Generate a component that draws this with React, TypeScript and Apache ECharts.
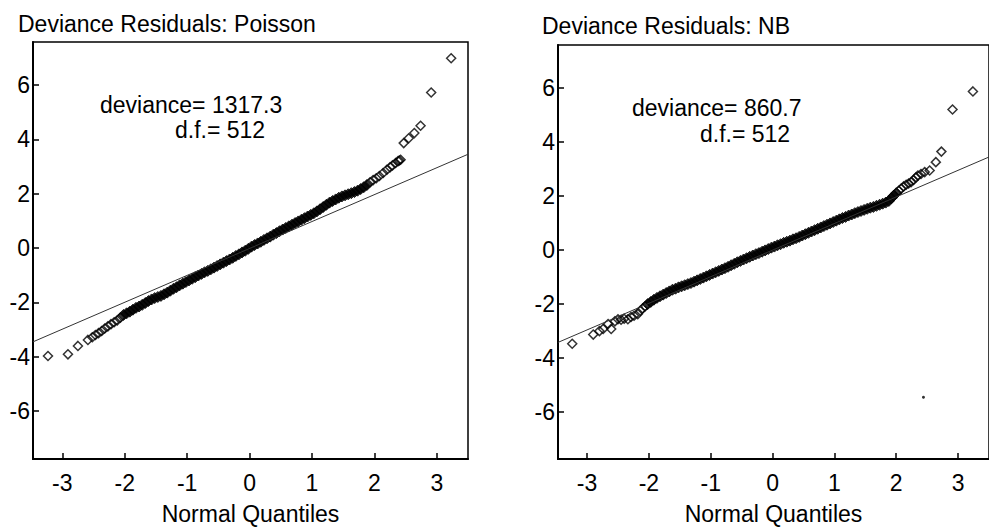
import React, { useEffect, useRef } from "react";
import * as echarts from "echarts";

const xTicks = [-3, -2, -1, 0, 1, 2, 3];
const yTicks = [-6, -4, -2, 0, 2, 4, 6];

const poissonTitle = "Deviance Residuals: Poisson";
const nbTitle = "Deviance Residuals: NB";
const poissonNotes = ["deviance= 1317.3", "d.f.= 512"];
const nbNotes = ["deviance= 860.7", "d.f.= 512"];
const xName = "Normal Quantiles";

// Poisson panel: normal quantiles (x) and deviance residuals (y)
const poissonQ = [
  -3.23, -2.91, -2.75, -2.59, -2.52, -2.47, -2.42, -2.37, -2.32, -2.27, -2.22, -2.17, -2.12, -2.07,
  -2.02, -1.97, -1.92, -1.87, -1.82, -1.77, -1.72, -1.67, -1.62, -1.57, -1.52, -1.47, -1.42, -1.37,
  -1.32, -1.27, -1.22, -1.17, -1.12, -1.07, -1.02, -0.97, -0.92, -0.87, -0.82, -0.77, -0.72, -0.67,
  -0.62, -0.57, -0.52, -0.47, -0.42, -0.37, -0.32, -0.27, -0.22, -0.17, -0.12, -0.07, -0.02, 0.03,
  0.08, 0.13, 0.18, 0.23, 0.28, 0.33, 0.38, 0.43, 0.48, 0.53, 0.58, 0.63, 0.68, 0.73, 0.78, 0.83,
  0.88, 0.93, 0.98, 1.03, 1.08, 1.13, 1.18, 1.23, 1.28, 1.33, 1.38, 1.43, 1.48, 1.53, 1.58, 1.63,
  1.68, 1.73, 1.78, 1.83, 1.88, 1.93, 1.98, 2.03, 2.08, 2.14, 2.2, 2.25, 2.29, 2.34, 2.38, 2.4,
  2.42, 2.47, 2.55, 2.64, 2.74, 2.91, 3.23,
];
const poissonR = [
  -3.97, -3.91, -3.6, -3.38, -3.28, -3.2, -3.13, -3.05, -2.96, -2.88, -2.8, -2.73, -2.66, -2.56,
  -2.46, -2.4, -2.34, -2.27, -2.2, -2.15, -2.09, -2.02, -1.95, -1.89, -1.84, -1.8, -1.76, -1.7,
  -1.64, -1.57, -1.5, -1.44, -1.37, -1.31, -1.25, -1.19, -1.13, -1.07, -1.01, -0.95, -0.89, -0.84,
  -0.78, -0.72, -0.66, -0.6, -0.54, -0.48, -0.42, -0.36, -0.29, -0.23, -0.16, -0.1, -0.03, 0.05,
  0.11, 0.17, 0.23, 0.3, 0.36, 0.42, 0.49, 0.55, 0.62, 0.68, 0.74, 0.8, 0.86, 0.92, 0.98, 1.04,
  1.1, 1.16, 1.22, 1.28, 1.35, 1.43, 1.51, 1.59, 1.67, 1.73, 1.79, 1.85, 1.9, 1.94, 1.98, 2.02,
  2.06, 2.11, 2.17, 2.24, 2.32, 2.42, 2.5, 2.57, 2.65, 2.76, 2.88, 2.97, 3.04, 3.13, 3.2, 3.22,
  3.25, 3.86, 4.04, 4.23, 4.5, 5.72, 6.98,
];

// NB panel
const nbQ = [
  -3.24, -2.9, -2.8, -2.74, -2.66, -2.61, -2.55, -2.5, -2.45, -2.4, -2.34, -2.29, -2.24, -2.18,
  -2.14, -2.1, -2.06, -2.02, -1.97, -1.92, -1.87, -1.82, -1.77, -1.72, -1.67, -1.62, -1.57, -1.52,
  -1.47, -1.42, -1.37, -1.32, -1.27, -1.22, -1.17, -1.12, -1.07, -1.02, -0.97, -0.92, -0.87, -0.82,
  -0.77, -0.72, -0.67, -0.62, -0.57, -0.52, -0.47, -0.42, -0.37, -0.32, -0.27, -0.22, -0.17, -0.12,
  -0.07, -0.02, 0.03, 0.08, 0.13, 0.18, 0.23, 0.28, 0.33, 0.38, 0.43, 0.48, 0.53, 0.58, 0.63, 0.68,
  0.73, 0.78, 0.83, 0.88, 0.93, 0.98, 1.03, 1.08, 1.13, 1.18, 1.23, 1.28, 1.33, 1.38, 1.43, 1.48,
  1.53, 1.58, 1.63, 1.68, 1.73, 1.78, 1.83, 1.88, 1.92, 1.96, 2.0, 2.04, 2.08, 2.12, 2.16, 2.2,
  2.24, 2.28, 2.32, 2.35, 2.4, 2.46, 2.54, 2.64, 2.73, 2.91, 3.24,
];
const nbR = [
  -3.49, -3.15, -3.02, -2.94, -2.76, -2.94, -2.66, -2.58, -2.6, -2.56, -2.58, -2.5, -2.45, -2.39,
  -2.27, -2.18, -2.1, -2.02, -1.94, -1.86, -1.79, -1.73, -1.67, -1.61, -1.55, -1.49, -1.45, -1.4,
  -1.36, -1.32, -1.28, -1.24, -1.19, -1.14, -1.09, -1.04, -0.99, -0.94, -0.89, -0.84, -0.79, -0.74,
  -0.69, -0.64, -0.58, -0.53, -0.47, -0.42, -0.37, -0.32, -0.27, -0.22, -0.17, -0.13, -0.08, -0.03,
  0.02, 0.07, 0.11, 0.16, 0.2, 0.25, 0.29, 0.33, 0.38, 0.42, 0.47, 0.52, 0.57, 0.62, 0.67, 0.72,
  0.77, 0.82, 0.87, 0.92, 0.97, 1.02, 1.07, 1.12, 1.17, 1.21, 1.26, 1.3, 1.35, 1.39, 1.43, 1.47,
  1.51, 1.55, 1.58, 1.62, 1.66, 1.7, 1.74, 1.8, 1.9, 2.0, 2.09, 2.18, 2.26, 2.34, 2.4, 2.45,
  2.5, 2.58, 2.68, 2.74, 2.8, 2.87, 2.93, 3.24, 3.63, 5.19, 5.86,
];
const nbSpeck = [[2.44, -5.47]];

// Reference lines (end points)
const refX = [-3.47, 3.5];
const poissonRefY = [-3.45, 3.45];
const nbRefY = [-3.44, 3.43];

// Range of quantiles where the markers merge into a solid band
const poissonSolid = [-2.05, 1.9];
const nbSolid = [-2.05, 2.0];

const FONT = "'Liberation Sans', Arial, Helvetica, sans-serif";
const FS = 23;

const points = (q: number[], r: number[], solid: number[]) =>
  q.map((v, i) => {
    const inCore = v >= solid[0] && v <= solid[1];
    return inCore
      ? { value: [v, r[i]], symbolSize: 11, itemStyle: { color: "#000", borderColor: "#000", borderWidth: 1 } }
      : { value: [v, r[i]] };
  });

function makeX(gridIndex: number) {
  return {
    type: "value",
    gridIndex,
    min: -3.47,
    max: 3.5,
    axisLine: { show: true, onZero: false, lineStyle: { color: "#000", width: 2 } },
    axisTick: { show: true, inside: true, length: 6, customValues: xTicks, lineStyle: { color: "#000", width: 1.5 } },
    axisLabel: { customValues: xTicks, color: "#000", fontSize: FS, fontFamily: FONT, margin: 12 },
    splitLine: { show: false },
    name: xName,
    nameLocation: "middle",
    nameGap: 43,
    nameTextStyle: { color: "#000", fontSize: FS, fontFamily: FONT },
  };
}

function makeY(gridIndex: number) {
  return {
    type: "value",
    gridIndex,
    min: -7.76,
    max: 7.58,
    axisLine: { show: true, onZero: false, lineStyle: { color: "#000", width: 2 } },
    axisTick: { show: true, inside: true, length: 6, customValues: yTicks, lineStyle: { color: "#000", width: 1.5 } },
    axisLabel: { customValues: yTicks, color: "#000", fontSize: FS, fontFamily: FONT, margin: 3 },
    splitLine: { show: false },
  };
}

const scatterStyle = {
  type: "scatter",
  symbol: "diamond",
  symbolSize: 9,
  itemStyle: { color: "rgba(0,0,0,0)", borderColor: "#000", borderWidth: 1.5 },
  silent: true,
};

const textStyle = (text: string, x: number, y: number) => ({
  type: "text",
  x,
  y,
  style: { text, fill: "#000", font: `${FS}px ${FONT}`, textVerticalAlign: "middle" },
});

export default function App() {
  const ref = useRef<HTMLDivElement>(null);
  useEffect(() => {
    const chart = echarts.init(ref.current!, null, { renderer: "svg" });
    chart.setOption({
      animation: false,
      backgroundColor: "#fff",
      grid: [
        { left: 33, top: 42, width: 435, height: 418, show: true, borderColor: "#000", borderWidth: 1.5 },
        { left: 558, top: 45, width: 435, height: 419, show: true, borderColor: "#000", borderWidth: 1.5 },
      ],
      xAxis: [makeX(0), makeX(1)],
      yAxis: [makeY(0), makeY(1)],
      graphic: [
        textStyle(poissonTitle, 18, 24),
        textStyle(nbTitle, 542, 26),
        textStyle(poissonNotes[0], 100, 105),
        textStyle(poissonNotes[1], 175, 130),
        textStyle(nbNotes[0], 632, 108),
        textStyle(nbNotes[1], 700, 134),
      ],
      series: [
        {
          type: "line",
          xAxisIndex: 0,
          yAxisIndex: 0,
          data: refX.map((v, i) => [v, poissonRefY[i]]),
          symbol: "none",
          lineStyle: { color: "#333", width: 1 },
          silent: true,
        },
        { ...scatterStyle, xAxisIndex: 0, yAxisIndex: 0, data: points(poissonQ, poissonR, poissonSolid) },
        {
          type: "line",
          xAxisIndex: 1,
          yAxisIndex: 1,
          data: refX.map((v, i) => [v, nbRefY[i]]),
          symbol: "none",
          lineStyle: { color: "#333", width: 1 },
          silent: true,
        },
        { ...scatterStyle, xAxisIndex: 1, yAxisIndex: 1, data: points(nbQ, nbR, nbSolid) },
        {
          type: "scatter",
          xAxisIndex: 1,
          yAxisIndex: 1,
          data: nbSpeck,
          symbol: "circle",
          symbolSize: 3,
          itemStyle: { color: "#000" },
          silent: true,
        },
      ],
    });
    return () => chart.dispose();
  }, []);
  return (
    <div
      ref={ref}
      style={{ position: "fixed", left: 0, top: 0, width: 989, height: 530, background: "#fff" }}
    />
  );
}
